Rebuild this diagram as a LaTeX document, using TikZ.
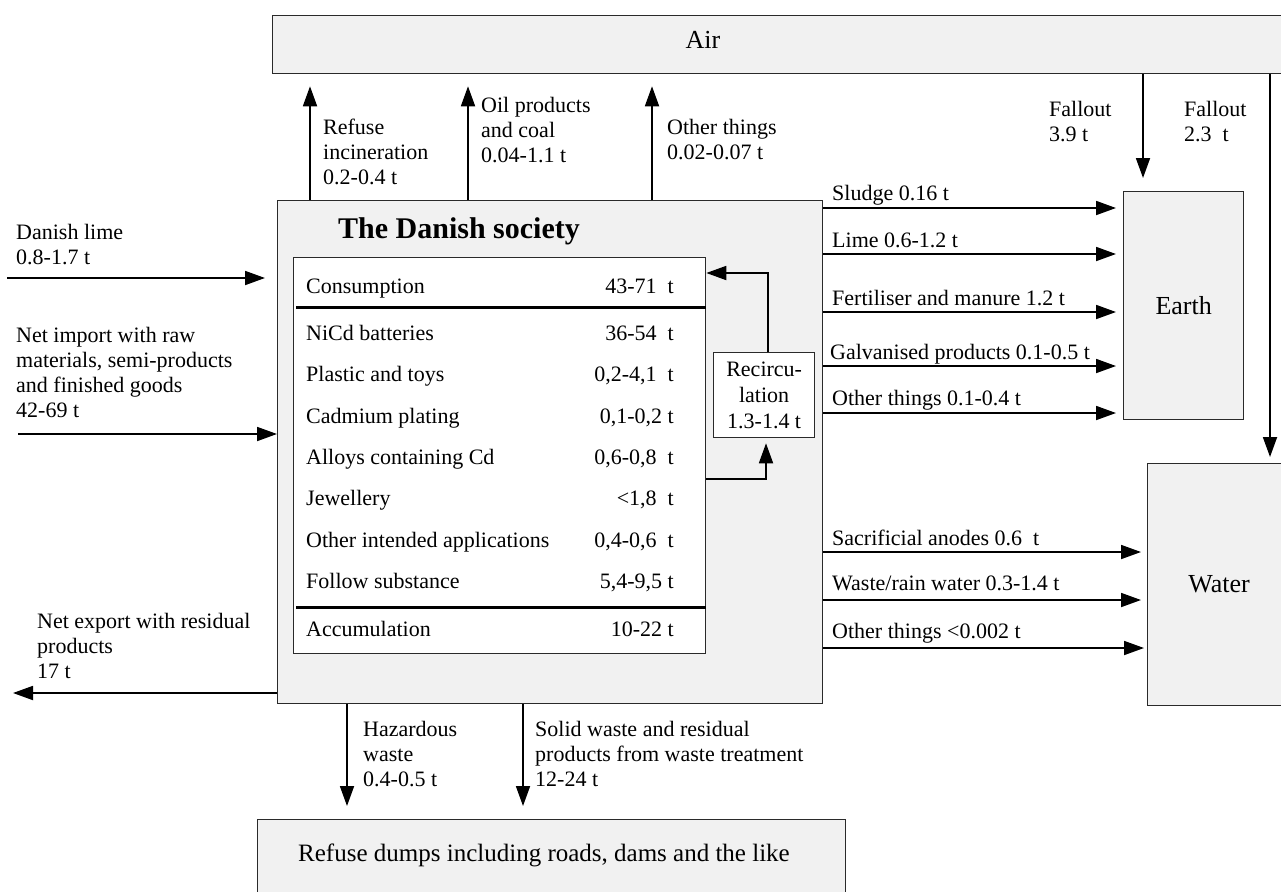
\documentclass[tikz,border=0pt]{standalone}
\usepackage{fontspec}
\setmainfont{Liberation Serif}
\usetikzlibrary{arrows.meta,calc}
\definecolor{boxfill}{HTML}{F1F1F1}
\definecolor{boxline}{HTML}{2A2A2A}
\newcommand{\lblfont}{\fontsize{22}{25}\selectfont}
\newcommand{\bigfont}{\fontsize{26}{28}\selectfont}
\newcommand{\ttlfont}{\fontsize{30}{32}\selectfont\bfseries}
\begin{document}
\begin{tikzpicture}[x=1pt,y=-1pt,
  box/.style={draw=boxline, fill=boxfill, line width=1.3pt, inner sep=0pt, anchor=north west},
  wbox/.style={box, fill=white},
  arr/.style={line width=1.8pt, -{Triangle[length=20pt,width=14pt]}},
  thickrule/.style={line width=3pt},
  lbl/.style={font=\lblfont, align=left, inner sep=0pt, anchor=north west},
  row/.style={font=\lblfont, inner sep=0pt, anchor=base west},
  val/.style={font=\lblfont, inner sep=0pt, anchor=base east},
  big/.style={font=\bigfont, inner sep=0pt}
]
\useasboundingbox (0,0) rectangle (1281,891);

% boxes
\node[box, minimum width=1030pt, minimum height=58pt] (air) at (272,15) {};
\node[big] (airtxt) at (703,40) {Air};
\node[box, minimum width=545pt, minimum height=503pt] (soc) at (277,200) {};
\node[font=\ttlfont, inner sep=0pt, anchor=base west] (title) at (338,238) {The Danish society};
\node[wbox, minimum width=412pt, minimum height=396pt] (table) at (293,257) {};
\node[wbox, minimum width=101pt, minimum height=85pt, font=\fontsize{22}{26}\selectfont, align=center] (recirc) at (713,352) {Recircu-\\lation\\1.3-1.4 t};
\node[box, minimum width=120pt, minimum height=228pt, font=\bigfont] (earth) at (1123,191) {Earth};
\node[box, minimum width=143pt, minimum height=242pt, font=\bigfont] (water) at (1147,463) {Water};
\node[box, minimum width=588pt, minimum height=90pt] (refuse) at (257,819) {};
\node[font=\fontsize{25}{27}\selectfont, inner sep=0pt] (refusetxt) at (544,855) {Refuse dumps including roads, dams and the like};

% table content
\coordinate (l1) at (296,307);
\coordinate (l2) at (296,607);
\draw[thickrule] (l1) -- (table.east |- l1);
\draw[thickrule] (l2) -- (table.east |- l2);
\node[row] (r0) at (306,293) {Consumption};
\node[val] (v0) at (674,293) {43-71~~t};
\node[row] (r1) at (306,340) {NiCd batteries};
\node[val] (v1) at (674,340) {36-54~~t};
\node[row] (r2) at (306,381) {Plastic and toys};
\node[val] (v2) at (674,381) {0,2-4,1~~t};
\node[row] (r3) at (306,423) {Cadmium plating};
\node[val] (v3) at (674,423) {0,1-0,2 t};
\node[row] (r4) at (306,464) {Alloys containing Cd};
\node[val] (v4) at (674,464) {0,6-0,8~~t};
\node[row] (r5) at (306,505) {Jewellery};
\node[val] (v5) at (674,505) {<1,8~~t};
\node[row] (r6) at (306,547) {Other intended applications};
\node[val] (v6) at (674,547) {0,4-0,6~~t};
\node[row] (r7) at (306,588) {Follow substance};
\node[val] (v7) at (674,588) {5,4-9,5 t};
\node[row] (r8) at (306,636) {Accumulation};
\node[val] (v8) at (674,636) {10-22 t};

% recirculation loop
\coordinate (rb) at (766,479);
\coordinate (rt) at (768,273);
\draw[arr, shorten >=5pt] (table.east |- rb) -- (rb) -- (recirc.south -| rb);
\draw[arr] (recirc.north -| rt) -- (rt) -- (table.east |- rt);

% to air
\coordinate (u1) at (310,0);
\coordinate (u2) at (468,0);
\coordinate (u3) at (652,0);
\draw[arr, shorten >=12pt] (soc.north -| u1) -- (air.south -| u1);
\draw[arr, shorten >=12pt] (soc.north -| u2) -- (air.south -| u2);
\draw[arr, shorten >=12pt] (soc.north -| u3) -- (air.south -| u3);
\node[lbl] (lu1) at (323,116.5) {\strut Refuse\\incineration\\0.2-0.4 t};
\node[lbl] (lu2) at (481,94.5) {\strut Oil products\\and coal\\0.04-1.1 t};
\node[lbl] (lu3) at (667,116.5) {\strut Other things\\0.02-0.07 t};

% fallout
\coordinate (f1) at (1143,0);
\coordinate (f2) at (1270,0);
\draw[arr, shorten >=13pt] (air.south -| f1) -- (earth.north -| f1);
\draw[arr, shorten >=6pt] (air.south -| f2) -- (water.north -| f2);
\node[lbl] (lf1) at (1049,98.5) {\strut Fallout\\3.9 t};
\node[lbl] (lf2) at (1184,98.5) {\strut Fallout\\2.3~~t};

% to earth
\coordinate (e1) at (0,208);
\coordinate (e2) at (0,254);
\coordinate (e3) at (0,312);
\coordinate (e4) at (0,366);
\coordinate (e5) at (0,413);
\draw[arr, shorten >=7pt] (soc.east |- e1) -- (earth.west |- e1);
\draw[arr, shorten >=7pt] (soc.east |- e2) -- (earth.west |- e2);
\draw[arr, shorten >=7pt] (soc.east |- e3) -- (earth.west |- e3);
\draw[arr, shorten >=7pt] (soc.east |- e4) -- (earth.west |- e4);
\draw[arr, shorten >=7pt] (soc.east |- e5) -- (earth.west |- e5);
\node[lbl] (le1) at (832,182.5) {\strut Sludge 0.16 t};
\node[lbl] (le2) at (832,229.5) {\strut Lime 0.6-1.2 t};
\node[lbl] (le3) at (832,287.5) {\strut Fertiliser and manure 1.2 t};
\node[lbl] (le4) at (830,341.5) {\strut Galvanised products 0.1-0.5 t};
\node[lbl] (le5) at (832,387.5) {\strut Other things 0.1-0.4 t};

% to water
\coordinate (w1) at (0,552);
\coordinate (w2) at (0,600);
\coordinate (w3) at (0,648);
\draw[arr, shorten >=6pt] (soc.east |- w1) -- (water.west |- w1);
\draw[arr, shorten >=6pt] (soc.east |- w2) -- (water.west |- w2);
\draw[arr, shorten >=3pt] (soc.east |- w3) -- (water.west |- w3);
\node[lbl] (lw1) at (832,527.5) {\strut Sacrificial anodes 0.6~~t};
\node[lbl] (lw2) at (832,572.5) {\strut Waste/rain water 0.3-1.4 t};
\node[lbl] (lw3) at (832,620.5) {\strut Other things <0.002 t};

% left side
\coordinate (dl) at (7,278);
\coordinate (ni) at (18,434);
\coordinate (ne) at (13,693);
\draw[arr, shorten >=12pt] (dl) -- (soc.west |- dl);
\draw[arr] (ni) -- (soc.west |- ni);
\draw[arr] (soc.west |- ne) -- (ne);
\node[lbl] (ldl) at (16,221.5) {\strut Danish lime\\0.8-1.7 t};
\node[lbl] (lni) at (16,324.5) {\strut Net import with raw\\materials, semi-products\\and finished goods\\42-69 t};
\node[lbl] (lne) at (37,610.5) {\strut Net export with residual\\products\\17 t};

% to refuse dumps
\coordinate (d1) at (347,0);
\coordinate (d2) at (523,0);
\draw[arr, shorten >=13pt] (soc.south -| d1) -- (refuse.north -| d1);
\draw[arr, shorten >=13pt] (soc.south -| d2) -- (refuse.north -| d2);
\node[lbl] (ld1) at (363,718.5) {\strut Hazardous\\waste\\0.4-0.5 t};
\node[lbl] (ld2) at (535,718.5) {\strut Solid waste and residual\\products from waste treatment\\12-24 t};
\end{tikzpicture}
\end{document}
